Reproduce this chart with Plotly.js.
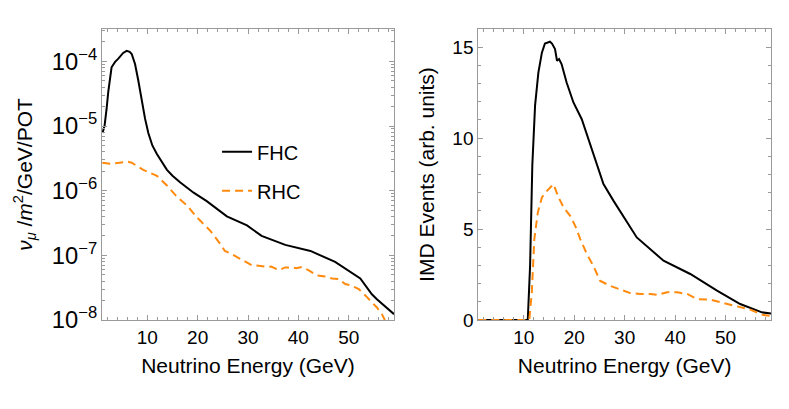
<!DOCTYPE html>
<html>
<head>
<meta charset="utf-8">
<script src="https://cdn.plot.ly/plotly-3.0.1.min.js"></script>
<style>
  html, body { margin: 0; padding: 0; background: #fff; }
  #plot { width: 789px; height: 409px; }
</style>
</head>
<body>
<div id="plot"></div>
<script>
// Left panel: flux (log scale)
const fluxFhcE = [1.1, 1.5, 1.9, 2.25, 2.9, 3.6, 4.24, 5.2, 5.9, 6.5, 6.9, 7.56, 8.2, 8.9, 9.55, 10.2, 11.0, 11.9, 12.8, 13.9, 15.0, 16.5, 19.2, 21.8, 25.8, 29.8, 32.7, 37.4, 42.4, 47.3, 52.3, 54.6, 55.6, 57.9, 59];
const fluxFhc = [7.8e-6, 1.0e-5, 1.8e-5, 3.4e-5, 8.1e-5, 9.8e-5, 1.1e-4, 1.35e-4, 1.45e-4, 1.4e-4, 1.3e-4, 9.1e-5, 5.1e-5, 2.5e-5, 1.3e-5, 7.8e-6, 5.0e-6, 3.7e-6, 2.8e-6, 2.1e-6, 1.7e-6, 1.35e-6, 9.3e-7, 6.9e-7, 4.0e-7, 2.9e-7, 2.0e-7, 1.45e-7, 1.17e-7, 7.9e-8, 4.4e-8, 2.5e-8, 2.1e-8, 1.47e-8, 1.23e-8];

const fluxRhcE = [1.06, 2.6, 4.5, 6.2, 6.9, 9.2, 11.9, 13.9, 15.9, 17.9, 19.8, 22.5, 24.5, 25.4, 26.8, 28.1, 29.4, 30.8, 32.1, 33.8, 34.6, 36.1, 37.4, 38.7, 39.6, 40.7, 42, 43.7, 45.3, 46.7, 48, 49.3, 50.6, 52, 53.3, 54.6, 55.6, 56.6, 57.1, 57.5];
const fluxRhc = [2.7e-6, 2.6e-6, 2.7e-6, 2.8e-6, 2.7e-6, 2.1e-6, 1.7e-6, 1.2e-6, 8e-7, 5.9e-7, 3.9e-7, 2.4e-7, 1.5e-7, 1.17e-7, 1.04e-7, 9.1e-8, 8.1e-8, 7.0e-8, 6.9e-8, 6.6e-8, 6.7e-8, 5.9e-8, 6.5e-8, 6.5e-8, 6.3e-8, 6.6e-8, 5.9e-8, 4.9e-8, 4.7e-8, 4.4e-8, 4.3e-8, 3.6e-8, 3.4e-8, 3.0e-8, 2.4e-8, 1.86e-8, 1.56e-8, 1.23e-8, 1.02e-8, 8e-9];

// Right panel: IMD events (linear scale)
const eventsFhcE = [1, 10.8, 11.26, 11.7, 12.25, 12.9, 13.6, 14.2, 15.2, 15.6, 16.2, 16.6, 17.0, 17.5, 18.5, 19.85, 21.5, 23.5, 25.8, 27.8, 32.4, 37.7, 43, 48.3, 52.9, 57.2, 59];
const eventsFhc = [0, 0, 2.98, 8.5, 11.8, 13.6, 14.7, 15.2, 15.3, 15.2, 14.9, 14.25, 14.35, 14.07, 13.06, 11.96, 11.04, 9.4, 7.47, 6.55, 4.54, 3.26, 2.53, 1.61, 0.88, 0.42, 0.35];

const eventsRhcE = [1, 11.1, 11.6, 12.1, 12.8, 13.6, 14.6, 15.9, 16.9, 17.9, 19.2, 20.2, 21.2, 22.5, 23.8, 25.1, 27.1, 29.1, 31.1, 33.1, 35.1, 36.4, 38.4, 40.4, 42.4, 44.3, 47, 49.6, 52.3, 54.9, 57.5, 59];
const eventsRhc = [0, 0, 1.52, 4.45, 5.92, 6.74, 7.1, 7.47, 6.74, 6.19, 5.73, 5.18, 4.45, 3.63, 2.98, 2.16, 1.88, 1.70, 1.48, 1.43, 1.43, 1.38, 1.52, 1.52, 1.43, 1.15, 1.12, 0.93, 0.75, 0.57, 0.27, 0.22];

const BLACK = "#000000";
const ORANGE = "#ff8a0d";
const FRAME = "#9a9a9a";
const FONT = "Liberation Sans, Arial, Helvetica, sans-serif";

const fhcLine = { color: BLACK, width: 2 };
const rhcLine = { color: ORANGE, width: 2, dash: "8px,5px" };

const traces = [
  { x: fluxFhcE, y: fluxFhc, type: "scatter", mode: "lines", name: "FHC", legendgroup: "fhc", line: fhcLine, xaxis: "x", yaxis: "y" },
  { x: fluxRhcE, y: fluxRhc, type: "scatter", mode: "lines", name: "RHC", legendgroup: "rhc", line: rhcLine, xaxis: "x", yaxis: "y" },
  { x: eventsFhcE, y: eventsFhc, type: "scatter", mode: "lines", name: "FHC", legendgroup: "fhc", showlegend: false, line: fhcLine, xaxis: "x2", yaxis: "y2" },
  { x: eventsRhcE, y: eventsRhc, type: "scatter", mode: "lines", name: "RHC", legendgroup: "rhc", showlegend: false, line: rhcLine, xaxis: "x2", yaxis: "y2" },
];

// common frame style (ticks inside, mirrored on all sides)
const frame = {
  showline: true, linecolor: FRAME, linewidth: 1, mirror: "ticks",
  ticks: "inside", ticklen: 5, tickcolor: FRAME, tickwidth: 1,
  showgrid: false, zeroline: false,
  tickfont: { family: FONT, size: 19, color: "#000" },
};

const xTitle = { text: "Neutrino Energy (GeV)", font: { family: FONT, size: 21, color: "#000" }, standoff: 11 };

const layout = {
  width: 789, height: 409,
  margin: { l: 102, r: 18, t: 29, b: 89 },
  paper_bgcolor: "#fff", plot_bgcolor: "#fff",
  font: { family: FONT, color: "#000" },
  showlegend: true,
  legend: {
    x: 0.172, y: 0.645, xanchor: "left", yanchor: "top",
    bgcolor: "rgba(0,0,0,0)", font: { family: FONT, size: 20 },
    tracegroupgap: 10,
  },
  xaxis: Object.assign({}, frame, {
    domain: [0, 0.4365], anchor: "y", range: [1, 59],
    tick0: 0, dtick: 10,
    minor: { dtick: 2, ticks: "inside", ticklen: 3, tickcolor: FRAME },
    title: xTitle,
  }),
  yaxis: Object.assign({}, frame, {
    domain: [0, 1], anchor: "x", type: "log", range: [-8, -3.5],
    dtick: 1, exponentformat: "power", showexponent: "all",
    minor: { dtick: "D1", ticks: "inside", ticklen: 3, tickcolor: FRAME },
    title: {
      text: "<i>ν</i><sub><i>μ</i></sub> /<i>m</i><sup>2</sup>/GeV/POT",
      font: { family: FONT, size: 21, color: "#000" }, standoff: 13,
    },
  }),
  xaxis2: Object.assign({}, frame, {
    domain: [0.5625, 1], anchor: "y2", range: [1, 59],
    tick0: 0, dtick: 10,
    minor: { dtick: 2, ticks: "inside", ticklen: 3, tickcolor: FRAME },
    title: xTitle,
  }),
  yaxis2: Object.assign({}, frame, {
    domain: [0, 1], anchor: "x2", range: [0, 16],
    tick0: 0, dtick: 5,
    minor: { dtick: 1, ticks: "inside", ticklen: 3, tickcolor: FRAME },
    title: { text: "IMD Events (arb. units)", font: { family: FONT, size: 21, color: "#000" }, standoff: 12 },
  }),
};

Plotly.newPlot("plot", traces, layout, { displayModeBar: false, staticPlot: true });
</script>
</body>
</html>
